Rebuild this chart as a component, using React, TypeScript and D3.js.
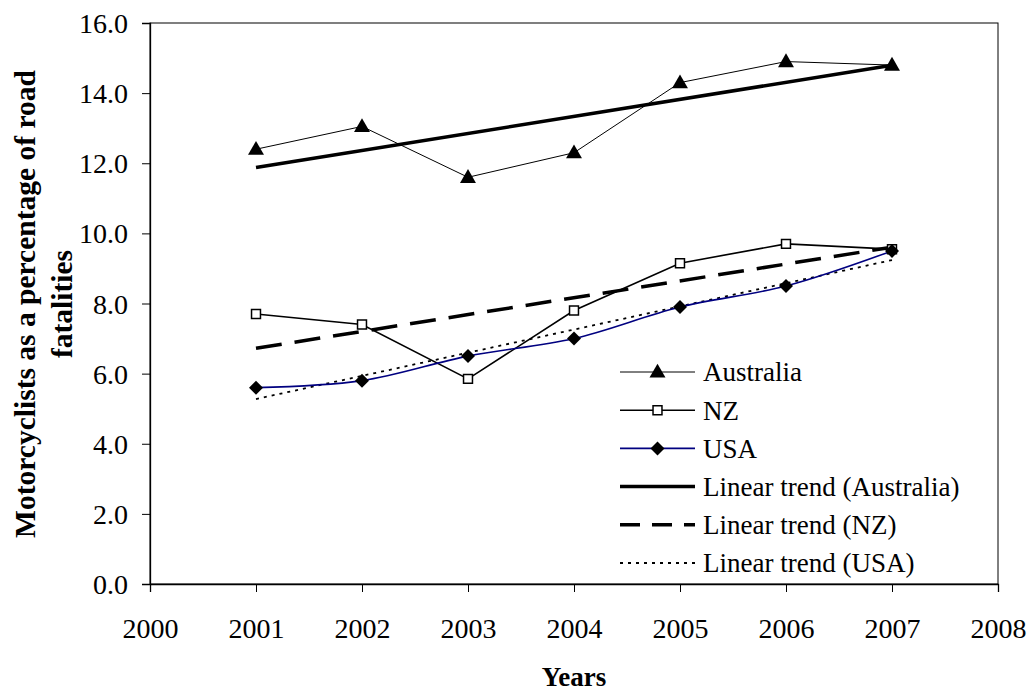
import { useEffect, useRef } from "react";
import * as d3 from "d3";

const years = [2001, 2002, 2003, 2004, 2005, 2006, 2007];
const australia = [12.4, 13.05, 11.6, 12.3, 14.3, 14.9, 14.8];
const nz = [7.7, 7.4, 5.85, 7.8, 9.15, 9.7, 9.55];
const usa = [5.6, 5.8, 6.5, 7.0, 7.9, 8.5, 9.5];
const xTicks = [2000, 2001, 2002, 2003, 2004, 2005, 2006, 2007, 2008];
const yTicks = [0, 2, 4, 6, 8, 10, 12, 14, 16];
const legendLabels = [
  "Australia",
  "NZ",
  "USA",
  "Linear trend (Australia)",
  "Linear trend (NZ)",
  "Linear trend (USA)",
];

const W = 1029;
const H = 693;
const FONT = "Liberation Serif, serif";

// least squares fit, returns value at first and last year
function trend(ys: number[]) {
  const mx = d3.mean(years)!;
  const my = d3.mean(ys)!;
  const num = d3.sum(years, (x, i) => (x - mx) * (ys[i] - my));
  const den = d3.sum(years, (x) => (x - mx) ** 2);
  const b = num / den;
  const a = my - b * mx;
  return [years[0], years[years.length - 1]].map((x) => [x, a + b * x] as [number, number]);
}

export default function App() {
  const svgRef = useRef<SVGSVGElement>(null);

  useEffect(() => {
    document.body.style.margin = "0";
    if (!svgRef.current) return;
    const svg = d3.select(svgRef.current);
    svg.selectAll("*").remove();

    const left = 150, right = 998, top = 23, bottom = 584;
    const x = d3.scaleLinear().domain([2000, 2008]).range([left, right]);
    const y = d3.scaleLinear().domain([0, 16]).range([bottom, top]);

    // plot frame
    svg.append("rect")
      .attr("x", left).attr("y", top)
      .attr("width", right - left).attr("height", bottom - top)
      .attr("fill", "none").attr("stroke", "#000").attr("stroke-width", 1);

    const gx = svg.append("g").attr("transform", `translate(0,${bottom})`)
      .call(d3.axisBottom(x).tickValues(xTicks).tickFormat(d3.format("d")).tickSize(8).tickPadding(26));
    const gy = svg.append("g").attr("transform", `translate(${left},0)`)
      .call(d3.axisLeft(y).tickValues(yTicks).tickFormat(d3.format(".1f")).tickSize(8).tickPadding(14));
    [gx, gy].forEach((g) => {
      g.attr("font-family", null).attr("font-size", null);
      g.selectAll("path").attr("stroke", "#000").attr("stroke-width", 1.3);
      g.selectAll("line").attr("stroke", "#000").attr("stroke-width", 1);
      g.selectAll("text").style("font-family", FONT).style("font-size", "28px").attr("fill", "#000");
    });
    gy.selectAll("text").attr("dy", "0.34em");

    // axis titles
    svg.append("text")
      .attr("x", (left + right) / 2).attr("y", 686)
      .attr("text-anchor", "middle")
      .style("font-family", FONT).style("font-size", "27px").style("font-weight", "bold")
      .text("Years");
    const yt = svg.append("text")
      .attr("transform", `translate(35,304) rotate(-90)`)
      .attr("text-anchor", "middle")
      .style("font-family", FONT).style("font-size", "29.5px").style("font-weight", "bold");
    yt.append("tspan").attr("x", 0).attr("y", 0).text("Motorcyclists as a percentage of road");
    yt.append("tspan").attr("x", 0).attr("y", 37).text("fatalities");

    const line = d3.line<[number, number]>().x((d) => x(d[0])).y((d) => y(d[1]));
    const smooth = d3.line<[number, number]>().x((d) => x(d[0])).y((d) => y(d[1])).curve(d3.curveCatmullRom.alpha(0.5));
    const pts = (vals: number[]) => years.map((yr, i) => [yr, vals[i]] as [number, number]);

    const plot = svg.append("g");

    // trend lines
    plot.append("path").attr("d", line(trend(australia))).attr("fill", "none")
      .attr("stroke", "#000").attr("stroke-width", 3.5);
    plot.append("path").attr("d", line(trend(nz))).attr("fill", "none")
      .attr("stroke", "#000").attr("stroke-width", 3.5).attr("stroke-dasharray", "26 13");
    plot.append("path").attr("d", line(trend(usa))).attr("fill", "none")
      .attr("stroke", "#000").attr("stroke-width", 1.8).attr("stroke-dasharray", "3 5");

    // series
    plot.append("path").attr("d", line(pts(australia))).attr("fill", "none")
      .attr("stroke", "#000").attr("stroke-width", 1);
    plot.append("path").attr("d", line(pts(nz))).attr("fill", "none")
      .attr("stroke", "#000").attr("stroke-width", 1.6);
    plot.append("path").attr("d", smooth(pts(usa))).attr("fill", "none")
      .attr("stroke", "#000080").attr("stroke-width", 1.6);

    const tri = d3.symbol().type(d3.symbolTriangle).size(110)();
    const sq = d3.symbol().type(d3.symbolSquare).size(80)();
    const dia = d3.symbol().type(d3.symbolSquare).size(98)();

    const drawMarker = (g: d3.Selection<any, any, any, any>, kind: string, cx: number, cy: number) => {
      if (kind === "tri") {
        g.append("path").attr("d", tri).attr("transform", `translate(${cx},${cy + 1})`).attr("fill", "#000");
      } else if (kind === "sq") {
        g.append("path").attr("d", sq).attr("transform", `translate(${cx},${cy})`)
          .attr("fill", "#fff").attr("stroke", "#000").attr("stroke-width", 1.5);
      } else if (kind === "dia") {
        g.append("path").attr("d", dia).attr("transform", `translate(${cx},${cy}) rotate(45)`).attr("fill", "#000");
      }
    };

    years.forEach((yr, i) => drawMarker(plot, "tri", x(yr), y(australia[i])));
    years.forEach((yr, i) => drawMarker(plot, "sq", x(yr), y(nz[i])));
    years.forEach((yr, i) => drawMarker(plot, "dia", x(yr), y(usa[i])));

    // legend
    const styles = [
      { stroke: "#000", w: 1, dash: null, m: "tri" },
      { stroke: "#000", w: 1.6, dash: null, m: "sq" },
      { stroke: "#000080", w: 1.6, dash: null, m: "dia" },
      { stroke: "#000", w: 3.5, dash: null, m: "" },
      { stroke: "#000", w: 3.5, dash: "20 12", m: "" },
      { stroke: "#000", w: 1.8, dash: "3 5", m: "" },
    ];
    const lg = svg.append("g");
    legendLabels.forEach((label, i) => {
      const cy = 372 + i * 38.2;
      const s = styles[i];
      lg.append("line").attr("x1", 620).attr("x2", 695).attr("y1", cy).attr("y2", cy)
        .attr("stroke", s.stroke).attr("stroke-width", s.w)
        .attr("stroke-dasharray", s.dash);
      drawMarker(lg, s.m, 657.5, cy);
      lg.append("text").attr("x", 703).attr("y", cy).attr("dy", "0.35em")
        .style("font-family", FONT).style("font-size", "27px").text(label);
    });
  }, []);

  return <svg ref={svgRef} width={W} height={H} style={{ display: "block", background: "#fff" }} />;
}
